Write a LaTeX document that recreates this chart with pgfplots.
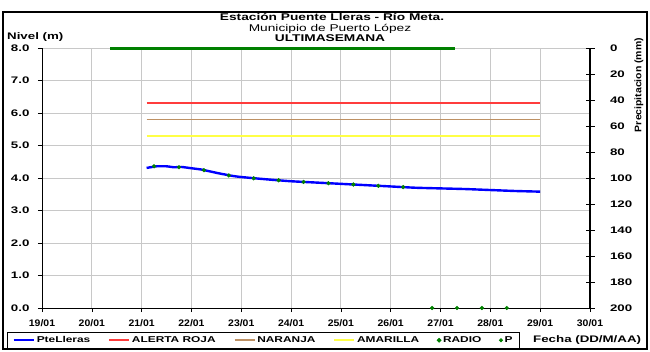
\documentclass[border=0pt]{standalone}
\usepackage{pgfplots}
\pgfplotsset{compat=1.18}
\usepackage{fontspec}
\setmainfont{Liberation Sans}[FakeStretch=1.4]
\newfontfamily\plainfont{Liberation Sans}[FakeStretch=1.1]

\definecolor{nivel}{RGB}{0,0,255}
\definecolor{roja}{RGB}{255,60,60}
\definecolor{naranja}{RGB}{190,145,100}
\definecolor{amarilla}{RGB}{255,255,70}
\definecolor{radio}{RGB}{0,128,0}
\definecolor{rejilla}{RGB}{200,200,200}

\begin{document}
\begin{tikzpicture}
\useasboundingbox (0pt,0pt) rectangle (650pt,351pt);
\draw[line width=1.5pt] (3pt,2pt) rectangle (647pt,339pt);

% titulos
\node[anchor=base, inner sep=0, font=\fontsize{9.8}{11}\selectfont\bfseries] at (332pt,330pt) {Estación Puente Lleras - Río Meta.};
\node[anchor=base, inner sep=0, font=\fontsize{9.8}{11}\selectfont] at (330pt,319.5pt) {Municipio de Puerto López};
\node[anchor=base, inner sep=0, font=\fontsize{9.8}{11}\selectfont\bfseries] at (330pt,309pt) {ULTIMASEMANA};
\node[anchor=base west, inner sep=0, font=\fontsize{9.5}{11}\selectfont\bfseries] at (7pt,311pt) {Nivel (m)};
\node[anchor=base west, inner sep=0, font=\fontsize{9.5}{11}\selectfont\bfseries] at (533pt,9pt) {Fecha (DD/M/AA)};
\node[rotate=90, inner sep=0, font=\plainfont\fontsize{9.5}{10}\selectfont\bfseries] at (639pt,266pt) {Precipitacion (mm)};

\begin{axis}[
    scale only axis, width=548pt, height=260pt,
    at={(42pt,43pt)}, anchor=south west,
    xmin=19, xmax=30, ymin=0, ymax=8,
    axis x line*=bottom, axis y line*=left,
    xtick={19,...,30},
    xticklabels={19/01,20/01,21/01,22/01,23/01,24/01,25/01,26/01,27/01,28/01,29/01,30/01},
    ytick={0,...,8},
    tick label style={font=\fontsize{9.5}{10}\selectfont\bfseries},
    yticklabel style={xshift=-5pt, /pgf/number format/.cd, fixed, fixed zerofill, precision=1},
    xticklabel style={font=\plainfont\fontsize{9.5}{10}\selectfont\bfseries, yshift=-4pt},
    /pgf/number format/assume math mode=true,
    grid=major,
    major grid style={draw=rejilla, line width=0.9pt},
    tick align=outside, major tick length=4pt,
    tick style={black, line width=0.6pt},
    axis line style={black, line width=0.8pt},
    clip=false,
    legend columns=6,
    legend style={at={(rel axis cs:-0.0639,-0.1577)}, anchor=south west,
        draw=black, line width=0.8pt, inner xsep=5pt, inner ysep=2.5pt,
        font=\fontsize{8.5}{9}\selectfont\bfseries,
        /tikz/every even column/.append style={column sep=16pt}},
    legend image code/.code={\draw[mark repeat=2,mark phase=2,#1] plot coordinates {(0pt,0pt) (10pt,0pt) (20pt,0pt)};},
]
\addplot[color=nivel, line width=2.4pt, smooth, tension=0.3] coordinates {
    (21.10,4.31) (21.30,4.36) (21.50,4.36) (21.65,4.33) (21.80,4.34)
    (22.00,4.30) (22.20,4.26) (22.50,4.16) (22.80,4.07) (23.00,4.03)
    (23.50,3.96) (24.00,3.90) (24.50,3.86) (25.00,3.82) (25.50,3.78)
    (26.00,3.74) (26.50,3.70) (27.00,3.68) (27.50,3.66) (28.00,3.63)
    (28.50,3.60) (29.00,3.58)
};
\addlegendentry{PteLleras}
\addplot[color=roja, line width=1.6pt] coordinates {(21.1,6.3) (29.0,6.3)};
\addlegendentry{ALERTA ROJA}
\addplot[color=naranja, line width=1.6pt] coordinates {(21.1,5.8) (29.0,5.8)};
\addlegendentry{NARANJA}
\addplot[color=amarilla, line width=1.6pt] coordinates {(21.1,5.3) (29.0,5.3)};
\addlegendentry{AMARILLA}
\addplot[only marks, mark=*, mark size=1.9pt, color=radio] coordinates {
    (21.25,4.36) (21.75,4.33) (22.25,4.24) (22.75,4.08) (23.25,3.99)
    (23.75,3.93) (24.25,3.88) (24.75,3.84) (25.25,3.80) (25.75,3.76)
    (26.25,3.72)
    (26.83,0) (27.33,0) (27.83,0) (28.33,0)
};
\addlegendentry{RADIO}
\addlegendimage{only marks, mark=*, mark size=1.6pt, color=radio}
\addlegendentry{P}
\end{axis}

\begin{axis}[
    scale only axis, width=548pt, height=260pt,
    at={(42pt,43pt)}, anchor=south west,
    xmin=19, xmax=30, ymin=0, ymax=200, y dir=reverse,
    axis y line*=right, axis x line=none,
    ytick={0,20,...,200},
    ytick align=center, major tick length=9pt,
    tick style={black, line width=0.8pt},
    axis line style={black, line width=1.6pt},
    yticklabel style={font=\fontsize{9.5}{10}\selectfont\bfseries, anchor=west, xshift=12pt},
    /pgf/number format/assume math mode=true,
    clip=false,
]
\addplot[color=radio, line width=3pt] coordinates {(20.37,0) (27.29,0)};
\end{axis}
\end{tikzpicture}
\end{document}
